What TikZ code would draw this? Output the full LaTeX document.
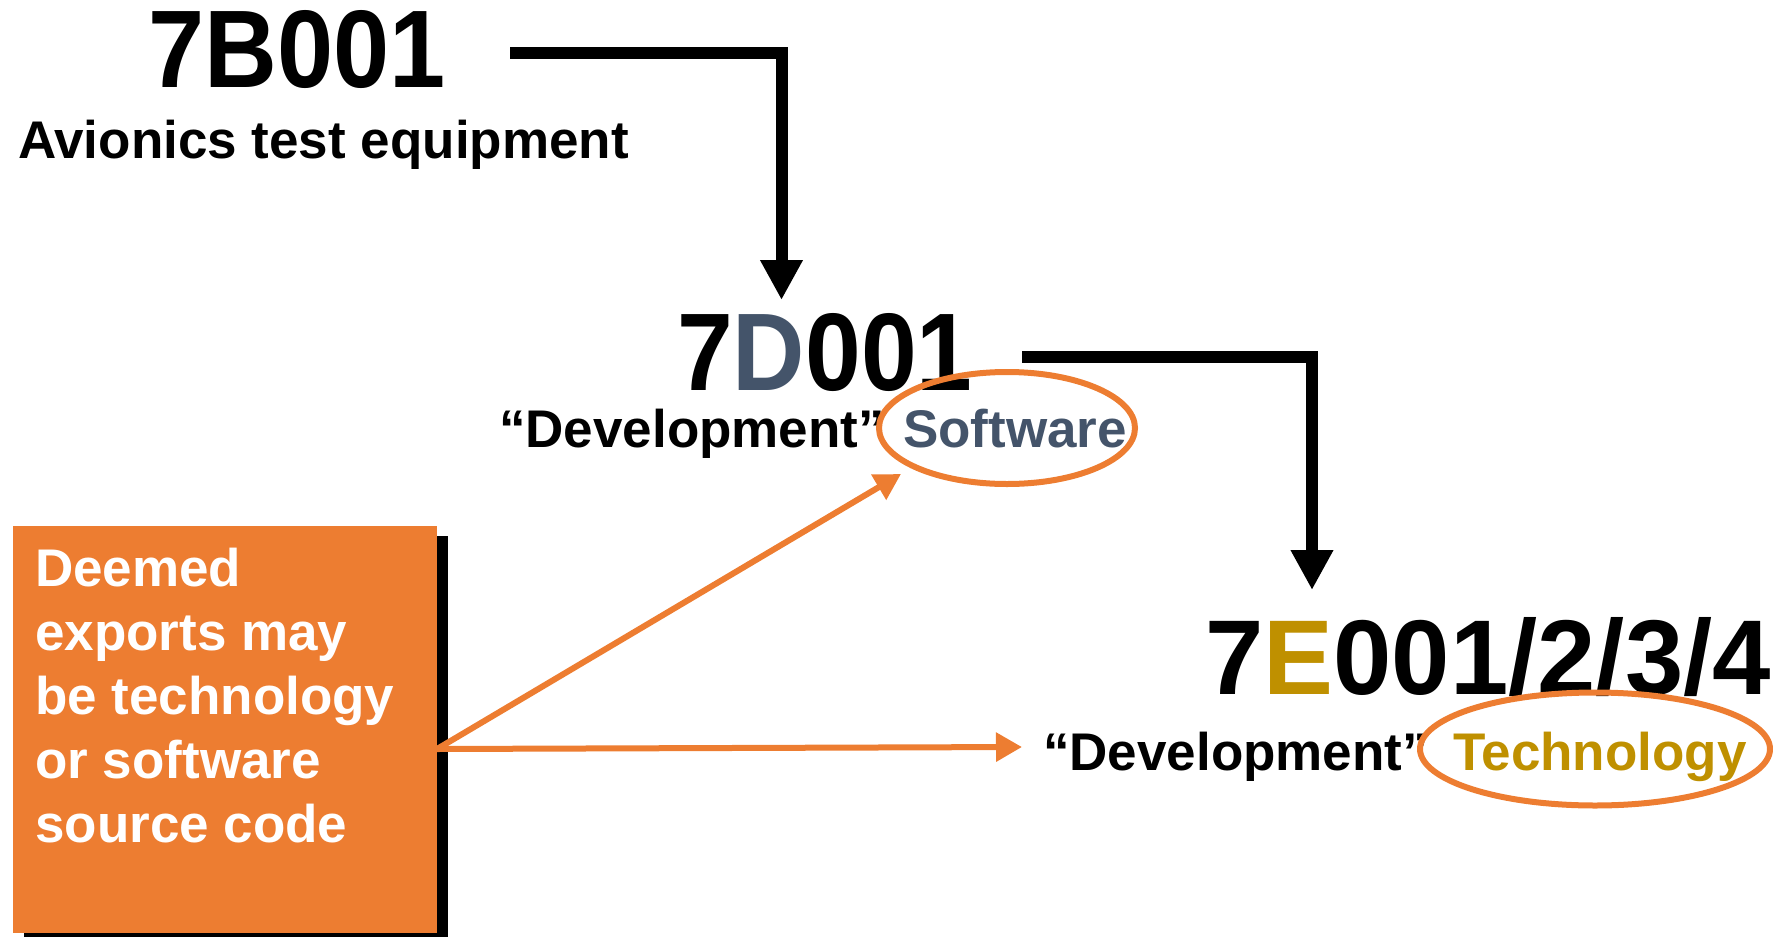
\documentclass[tikz,border=0pt]{standalone}
\usepackage{graphicx}
\usepackage{fontspec}
\setmainfont{Liberation Sans}
\usetikzlibrary{arrows.meta,shapes.geometric,shadows}
\definecolor{accent}{HTML}{ED7D31}
\definecolor{slate}{HTML}{44546A}
\definecolor{gold}{HTML}{BF9000}

\begin{document}
\begin{tikzpicture}[x=1pt,y=-1pt,
  txt/.style={inner sep=0pt, anchor=base west, font=\fontsize{53}{64}\selectfont\bfseries},
  code/.style={inner sep=0pt, anchor=base west, font=\bfseries},
  flow/.style={line width=12pt, -{Triangle[width=40pt,length=40pt]}, line join=miter},
  hint/.style={draw=accent, line width=6pt, -{Triangle[width=28pt,length=26pt]}},
  ring/.style={ellipse, draw=accent, line width=6pt, inner sep=0pt}]
\useasboundingbox (0,0) rectangle (1773,937);

% note box with its hard shadow
\node[fill=accent, minimum width=424pt, minimum height=407pt, inner sep=0pt,
      anchor=north west,
      general shadow={fill=black, shadow xshift=11pt, shadow yshift=-10pt}]
      (box) at (13,526) {};
% multi-line node: its base anchor sits on the last line
\node[txt, white, align=left, anchor=base west] (note) at (35,842)
  {Deemed\\exports may\\be technology\\or software\\source code};

% control codes
\node[code] (b7) at (148,87) {\resizebox{297pt}{77pt}{7B001}};
\node[code] (d7) at (677,390) {\resizebox{295pt}{77pt}{7\textcolor{slate}{D}001}};
\node[code] (e7) at (1205,694) {\resizebox{565pt}{77pt}{7\textcolor{gold}{E}001/2/3/4}};

% captions
\node[txt] (avi) at (18,158) {Avionics test equipment};
\node[txt] (dev1) at (499,447) {“Development”};
\node[txt, text=slate] (sw) at (903,447) {Software};
\node[txt] (dev2) at (1043,770) {“Development”};
\node[txt, text=gold] (tech) at (1453,770) {Technology};

% highlight rings
\node[ring, minimum width=256pt, minimum height=112pt] (swring) at (1007,428) {};
\node[ring, minimum width=350pt, minimum height=113pt] (techring) at (1595,749) {};

% black flow arrows
\coordinate (b7out) at (510,53);
\coordinate (d7in) at (781.5,300);
\draw[flow] (b7out) -| (d7in);
\coordinate (d7out) at (1022,357);
\coordinate (e7in) at (1312,590);
\draw[flow] (d7out) -| (e7in);

% orange pointers from the note
\coordinate (src) at (437,749);
\coordinate (swtip) at (901,474);
\coordinate (techtip) at (1022,747);
\draw[hint] (src) -- (swtip);
\draw[hint] (src) -- (techtip);
\end{tikzpicture}
\end{document}
